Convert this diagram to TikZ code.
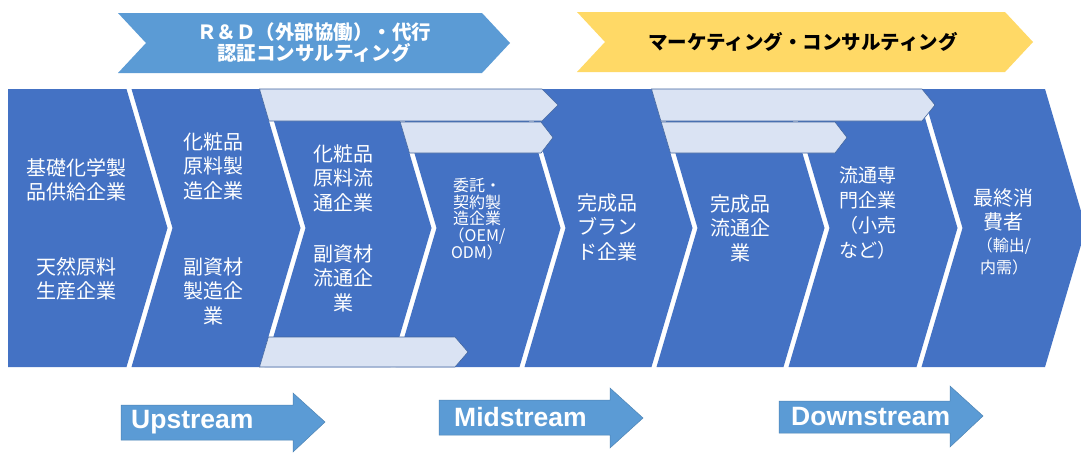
\documentclass[tikz,border=0pt]{standalone}
\usepackage{fontspec}
\newfontfamily\jp{Noto Sans CJK JP}
\newfontfamily\lat{Liberation Sans}
\definecolor{chev}{HTML}{4472C4}
\definecolor{barfill}{HTML}{DAE3F3}
\definecolor{barline}{HTML}{41659F}
\definecolor{topblue}{HTML}{5B9BD5}
\definecolor{topyellow}{HTML}{FFD966}
\tikzset{
  chevshape/.style={fill=chev, draw=none},
  barshape/.style={fill=barfill, draw=barline, line width=0.6pt, line join=miter},
  topshape/.style={draw=none},
  streamshape/.style={fill=topblue, draw=topblue!85!black, line width=0.5pt},
  ctext/.style={text=white, align=center, inner sep=0pt, font=\jp\fontsize{20}{24.5}\selectfont},
  stext/.style={text=white, inner sep=0pt, anchor=west, font=\lat\bfseries\fontsize{26.5}{30}\selectfont},
}
\begin{document}
\begin{tikzpicture}[x=1pt,y=-1pt]
\useasboundingbox (0,0) rectangle (1081,453);
\fill[white] (0,0) rectangle (1081,453);

% top chevrons
\fill[topblue] (118,13) -- (482,13) -- (510,43) -- (482,73) -- (118,73) -- (146,43) -- cycle;
\fill[topyellow] (577,12) -- (1005,12) -- (1033,42) -- (1005,72) -- (577,72) -- (605,42) -- cycle;
\node[text=white, align=center, inner sep=0pt, font=\jp\bfseries\fontsize{19.5}{21}\selectfont] (top1) at (314,43) {Ｒ＆Ｄ（外部協働）・代行\\認証コンサルティング};
\node[text=black, inner sep=0pt, font=\jp\bfseries\fontsize{19.5}{21}\selectfont] (top2) at (803,42) {マーケティング・コンサルティング};

% main chevrons
\fill[chevshape] (8,89) -- (126.5,89) -- (167.5,228) -- (126.5,367) -- (8,367) -- cycle;
\fill[chevshape] (131.5,89) -- (259.5,89) -- (300.5,228) -- (259.5,367) -- (131.5,367) -- (172.5,228) -- cycle;
\fill[chevshape] (264.5,89) -- (390.5,89) -- (431.5,228) -- (390.5,367) -- (264.5,367) -- (305.5,228) -- cycle;
\fill[chevshape] (395.5,89) -- (519.5,89) -- (560.5,228) -- (519.5,367) -- (395.5,367) -- (436.5,228) -- cycle;
\fill[chevshape] (524.5,89) -- (651.5,89) -- (692.5,228) -- (651.5,367) -- (524.5,367) -- (565.5,228) -- cycle;
\fill[chevshape] (656.5,89) -- (783.5,89) -- (824.5,228) -- (783.5,367) -- (656.5,367) -- (697.5,228) -- cycle;
\fill[chevshape] (788.5,89) -- (916.5,89) -- (957.5,228) -- (916.5,367) -- (788.5,367) -- (829.5,228) -- cycle;
\fill[chevshape] (921.5,89) -- (1045,89) -- (1086,228) -- (1045,367) -- (921.5,367) -- (962.5,228) -- cycle;

% light bars
\filldraw[barshape] (259.5,89) -- (542,89) -- (558,105) -- (542,121) -- (268.9,121) -- cycle;
\filldraw[barshape] (400.2,122) -- (541,122) -- (553,137.5) -- (541,153) -- (409.4,153) -- cycle;
\filldraw[barshape] (268.4,337) -- (455,337) -- (468,352) -- (455,367) -- (259.5,367) -- cycle;
\filldraw[barshape] (651.5,89) -- (922,89) -- (935,105) -- (922,121) -- (660.9,121) -- cycle;
\filldraw[barshape] (661.2,122) -- (835,122) -- (847,137.5) -- (835,153) -- (670.4,153) -- cycle;

% chevron texts
\node[ctext] (c1a) at (76,180) {基礎化学製\\品供給企業};
\node[ctext] (c1b) at (76,279) {天然原料\\生産企業};
\node[ctext] (c2a) at (213,166) {化粧品\\原料製\\造企業};
\node[ctext] (c2b) at (213,291) {副資材\\製造企\\業};
\node[ctext] (c3a) at (343,178) {化粧品\\原料流\\通企業};
\node[ctext] (c3b) at (343,278) {副資材\\流通企\\業};
\node[ctext, font=\jp\fontsize{16}{16.7}\selectfont] (c4) at (477,219) {委託・\\契約製\\造企業\\（OEM/\\ODM）};
\node[ctext] (c5) at (607,227) {完成品\\ブラン\\ド企業};
\node[ctext] (c6) at (740,228) {完成品\\流通企\\業};
\node[ctext, font=\jp\fontsize{19}{25}\selectfont] (c7) at (868,213) {流通専\\門企業\\（小売\\など）};
\node[ctext] (c8a) at (1003,210) {最終消\\費者};
\node[ctext, font=\jp\fontsize{16}{22}\selectfont] (c8b) at (1004,256) {（輸出/\\内需）};

% stream arrows
\filldraw[streamshape] (121,405) -- (293,405) -- (293,393) -- (325,422) -- (293,452) -- (293,440) -- (121,440) -- cycle;
\filldraw[streamshape] (439,400) -- (610,400) -- (610,388) -- (643,418) -- (610,448) -- (610,435) -- (439,435) -- cycle;
\filldraw[streamshape] (779,401) -- (950,401) -- (950,386) -- (983,416) -- (950,447) -- (950,433) -- (779,433) -- cycle;
\node[stext] (up) at (131,422) {Upstream};
\node[stext] (mid) at (454,417) {Midstream};
\node[stext] (down) at (791,417) {Downstream};
\end{tikzpicture}
\end{document}
